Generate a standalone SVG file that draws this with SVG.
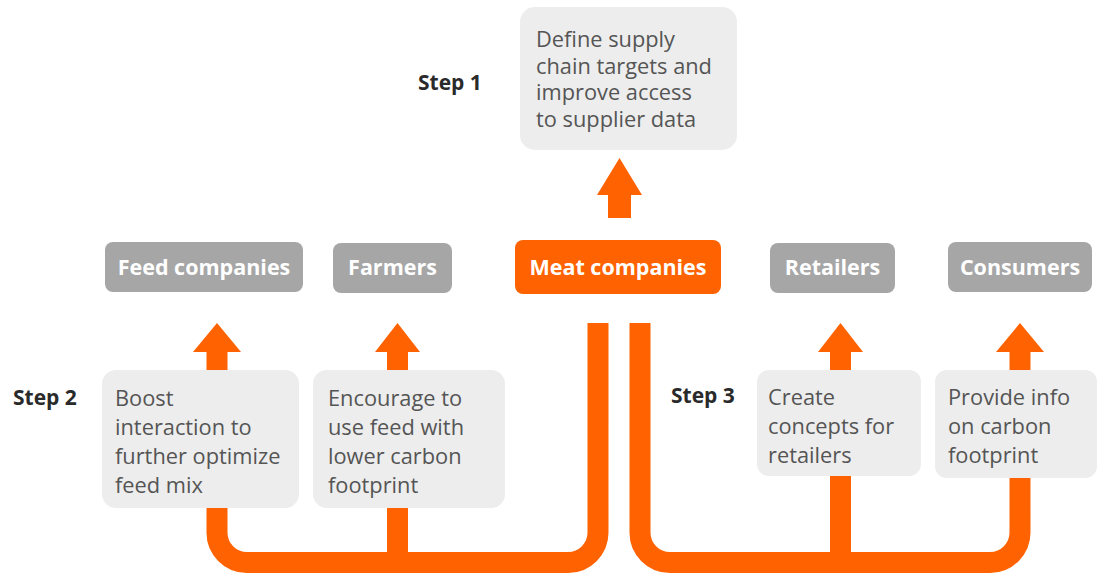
<svg xmlns="http://www.w3.org/2000/svg" width="1101" height="576" viewBox="0 0 1101 576">
<defs>
<style>
.pipe{fill:none;stroke:#ff6200;stroke-width:21}
.head{fill:#ff6200}
.note{fill:#ededed}
.node{fill:#a6a6a6}
.hot{fill:#ff6200}
.nt{font-family:"Open Sans","Noto Sans",sans-serif;font-size:21.5px;font-weight:700;fill:#ffffff;text-anchor:middle}
.bt{font-family:"Open Sans","Noto Sans",sans-serif;font-size:21.8px;fill:#555555}
.st{font-family:"Open Sans","Noto Sans",sans-serif;font-size:21px;font-weight:700;fill:#2a2a2a}
</style>
</defs>
<rect width="1101" height="576" fill="#ffffff"/>
<g id="connectors">
<path class="pipe" d="M217,350 V532 A30,30 0 0 0 247,562.5 H568 A30,30 0 0 0 598,532 V323"/>
<path class="pipe" d="M397.5,350 V562"/>
<path class="pipe" d="M640,323 V532 A30,30 0 0 0 670,562.5 H990 A30,30 0 0 0 1020,532 V350"/>
<path class="pipe" d="M840.5,350 V562"/>
<path class="head" d="M217,323 L241,352 L193,352 Z"/>
<path class="head" d="M397.5,323 L420,352 L375,352 Z"/>
<path class="head" d="M840.5,323 L863,352 L818,352 Z"/>
<path class="head" d="M1020,323 L1044,352 L996,352 Z"/>
<path class="head" d="M619.5,158 L642,195 L631,195 L631,218 L608,218 L608,195 L597,195 Z"/>
</g>
<g id="step1-label"><text class="st" x="418" y="90">Step 1</text></g>
<g id="step2-label"><text class="st" x="13" y="405">Step 2</text></g>
<g id="step3-label"><text class="st" x="671" y="403">Step 3</text></g>
<g id="step1-box">
<rect class="note" x="520" y="7" width="217" height="143" rx="15"/>
<text class="bt" x="536" y="47">Define supply</text>
<text class="bt" x="536" y="73.5">chain targets and</text>
<text class="bt" x="536" y="100">improve access</text>
<text class="bt" x="536" y="126.5">to supplier data</text>
</g>
<g id="feed-companies">
<rect class="node" x="105" y="242" width="198" height="50" rx="8"/>
<text class="nt" x="204" y="275">Feed companies</text>
</g>
<g id="farmers">
<rect class="node" x="333" y="243" width="119" height="50" rx="8"/>
<text class="nt" x="392.5" y="275">Farmers</text>
</g>
<g id="meat-companies">
<rect class="hot" x="515" y="240" width="206" height="54" rx="8"/>
<text class="nt" x="618" y="275">Meat companies</text>
</g>
<g id="retailers">
<rect class="node" x="770" y="243" width="125" height="50" rx="8"/>
<text class="nt" x="832.5" y="275">Retailers</text>
</g>
<g id="consumers">
<rect class="node" x="948" y="242" width="144" height="50" rx="8"/>
<text class="nt" x="1020" y="275">Consumers</text>
</g>
<g id="boost-box">
<rect class="note" x="102" y="370" width="197" height="138" rx="14"/>
<text class="bt" x="115" y="406">Boost</text>
<text class="bt" x="115" y="435">interaction to</text>
<text class="bt" x="115" y="464">further optimize</text>
<text class="bt" x="115" y="493">feed mix</text>
</g>
<g id="encourage-box">
<rect class="note" x="313" y="370" width="192" height="138" rx="14"/>
<text class="bt" x="328" y="406">Encourage to</text>
<text class="bt" x="328" y="435">use feed with</text>
<text class="bt" x="328" y="464">lower carbon</text>
<text class="bt" x="328" y="493">footprint</text>
</g>
<g id="create-box">
<rect class="note" x="757" y="370" width="164" height="106" rx="12"/>
<text class="bt" x="768" y="405">Create</text>
<text class="bt" x="768" y="434">concepts for</text>
<text class="bt" x="768" y="463">retailers</text>
</g>
<g id="provide-box">
<rect class="note" x="935" y="370" width="162" height="108" rx="12"/>
<text class="bt" x="948" y="405">Provide info</text>
<text class="bt" x="948" y="434">on carbon</text>
<text class="bt" x="948" y="463">footprint</text>
</g>
</svg>
